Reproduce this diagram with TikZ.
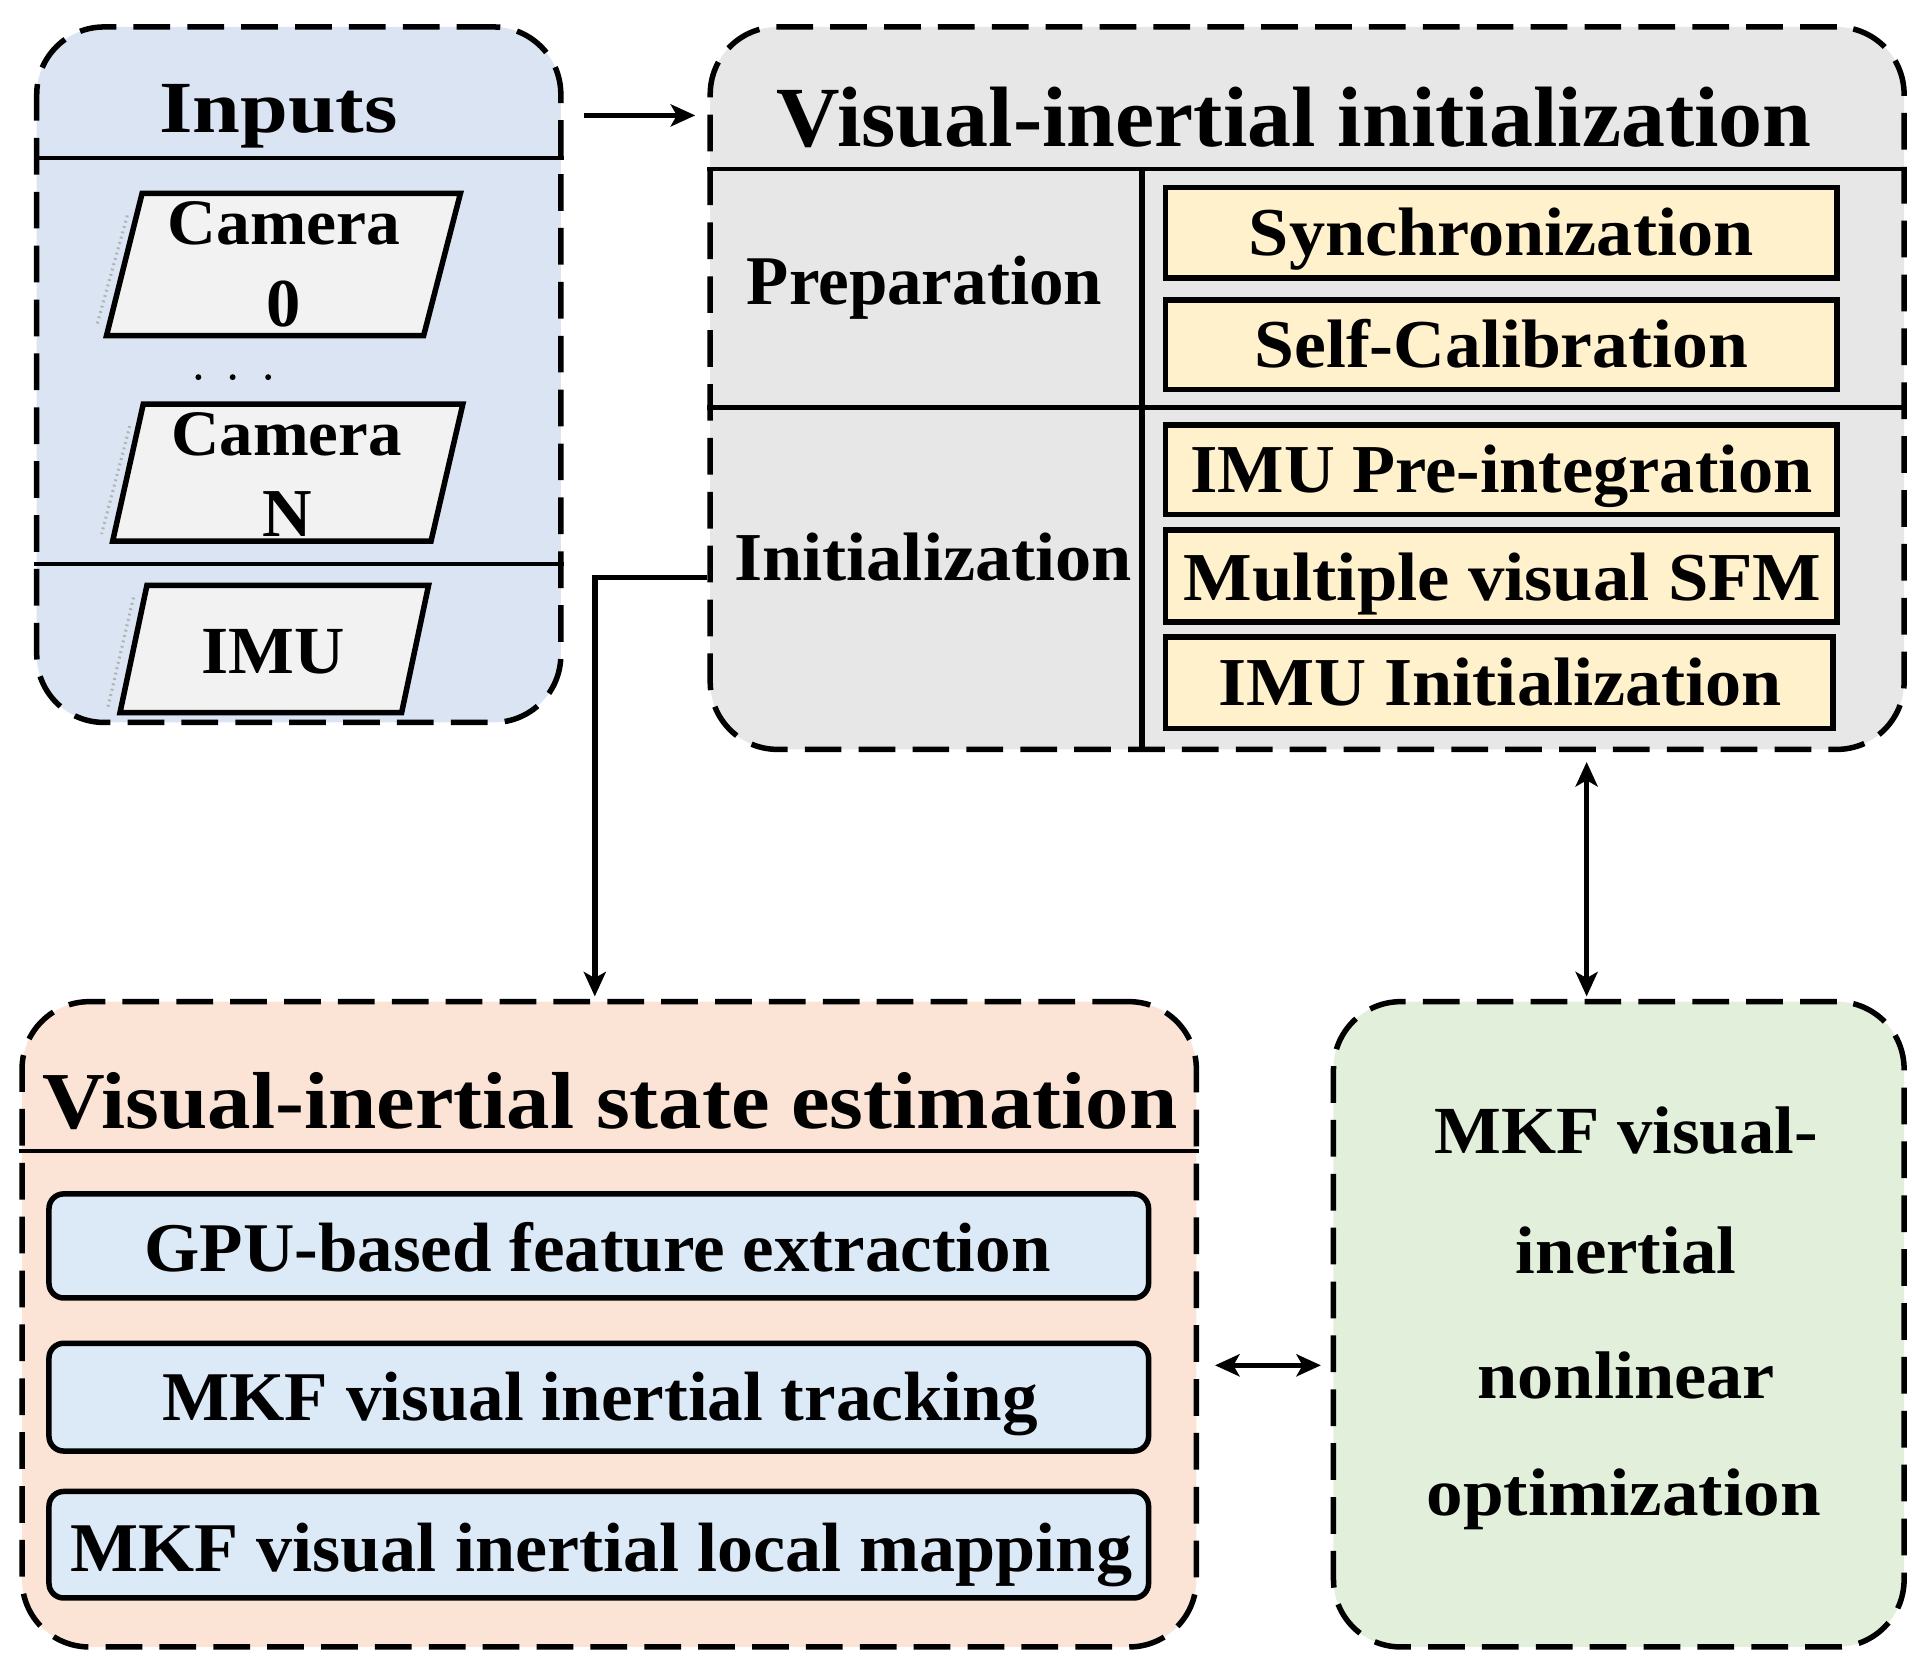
\documentclass[tikz,border=0pt]{standalone}
\usepackage{graphicx}
\usepackage{fontspec}
\setmainfont{Liberation Serif}
\usetikzlibrary{arrows.meta,calc}
\definecolor{inpblue}{RGB}{218,228,242}
\definecolor{viigrey}{RGB}{231,231,232}
\definecolor{ylw}{RGB}{255,241,204}
\definecolor{peach}{RGB}{251,228,214}
\definecolor{lblue}{RGB}{220,233,246}
\definecolor{lgreen}{RGB}{226,239,218}
\definecolor{pgrey}{RGB}{242,242,242}
\newcommand\fw[3]{\resizebox{#1pt}{\height}{\fontsize{#2}{#2}\selectfont\bfseries #3}}
\begin{document}
\begin{tikzpicture}[x=1pt,y=-1pt,
  bigbox/.style={rectangle,draw=black,line width=4.5pt,dash pattern=on 30pt off 14pt,rounded corners=55pt,inner sep=0pt},
  ybox/.style={rectangle,draw=black,line width=4.5pt,fill=ylw,minimum width=548,minimum height=74,inner sep=0pt},
  bbox/.style={rectangle,draw=black,line width=4.5pt,fill=lblue,rounded corners=12pt,minimum width=898,minimum height=86,inner sep=0pt},
  sepline/.style={line width=3.5pt},
  para/.style={draw=black,line width=4.5pt,fill=pgrey,line join=miter},
  shadowline/.style={draw=gray!60,line width=2.5pt,dash pattern=on 1.5pt off 3pt},
  lbl/.style={anchor=base,inner sep=0pt},
  arr/.style={line width=4.5pt,-{Stealth[length=20pt,width=18pt,inset=5pt]}},
  darr/.style={line width=4.5pt,{Stealth[length=20pt,width=18pt,inset=5pt]}-{Stealth[length=20pt,width=18pt,inset=5pt]}}]
\useasboundingbox (0,0) rectangle (1568,1366);
% ---------- Inputs ----------
\node[bigbox,fill=inpblue,minimum width=428,minimum height=568] (inp) at (244,306) {};
\draw[sepline] ($(inp.north west)+(0,109)$) -- ($(inp.north east)+(0,109)$);
\draw[sepline] ($(inp.north west)+(0,441)$) -- ($(inp.north east)+(0,441)$);
\node[lbl] (inpT) at (227.5,108) {\fw{195}{60}{Inputs}};
% camera 0
\draw[shadowline] (104,176) -- (79,266);
\draw[para] (116,158) -- (376,158) -- (346,274) -- (87,274) -- cycle;
\node[lbl] (cam0a) at (232,200) {\fw{190}{53}{Camera}};
\node[lbl] (cam0b) at (232,267) {\fontsize{56}{56}\selectfont\bfseries 0};
% dots
\fill (162,308) circle (2.4pt);
\fill (190,308) circle (2.4pt);
\fill (219,308) circle (2.4pt);
% camera N
\draw[shadowline] (106,348) -- (83,436);
\draw[para] (117,330) -- (378,330) -- (352,442) -- (92,442) -- cycle;
\node[lbl] (camNa) at (234,372) {\fw{188}{53}{Camera}};
\node[lbl] (camNb) at (235,438) {\fontsize{56}{56}\selectfont\bfseries N};
% IMU
\draw[shadowline] (109,488) -- (88,578);
\draw[para] (120,478) -- (350,478) -- (328,582) -- (98,582) -- cycle;
\node[lbl] (imu) at (223,550) {\fw{117}{55}{IMU}};
% ---------- Visual-inertial initialization ----------
\node[bigbox,fill=viigrey,minimum width=975,minimum height=590] (vii) at (1067.5,317) {};
\draw[sepline] ($(vii.north west)+(0,118)$) -- ($(vii.north east)+(0,118)$);
\draw[sepline] ($(vii.north west)+(0,313)$) -- ($(vii.north east)+(0,313)$);
\draw[line width=4.5pt] ($(vii.north west)+(355,118)$) -- ($(vii.south west)+(355,0)$);
\node[lbl] (viiT) at (1057,120) {\fw{845}{70}{Visual-inertial initialization}};
\node[lbl] (prep) at (755,249) {\fw{290}{57}{Preparation}};
\node[lbl] (initl) at (762,474) {\fw{325}{56}{Initialization}};
\node[ybox] (sync) at (1226,190) {};
\node[lbl] (syncT) at (1226,209) {\fw{412}{56}{Synchronization}};
\node[ybox,minimum height=73] (calib) at (1226,281.5) {};
\node[lbl] (calibT) at (1226,300) {\fw{403}{56}{Self-Calibration}};
\node[ybox,minimum height=73] (preint) at (1226,383.5) {};
\node[lbl] (preintT) at (1226,402) {\fw{508}{56}{IMU Pre-integration}};
\node[ybox,minimum height=75] (sfm) at (1226,470.5) {};
\node[lbl] (sfmT) at (1227,490) {\fw{521}{56}{Multiple visual SFM}};
\node[ybox,minimum height=75,minimum width=545] (imuinit) at (1224.5,557.5) {};
\node[lbl] (imuinitT) at (1225,576) {\fw{460}{56}{IMU Initialization}};
% ---------- Visual-inertial state estimation ----------
\node[bigbox,fill=peach,minimum width=959,minimum height=527] (vise) at (497.5,1081.5) {};
\draw[sepline] ($(vise.north west)+(0,124)$) -- ($(vise.north east)+(0,124)$);
\node[lbl] (viseT) at (498,922) {\fw{927}{66}{Visual-inertial state estimation}};
\node[bbox,minimum height=85] (gpu) at (489,1017.5) {};
\node[lbl] (gpuT) at (488,1038) {\fw{740}{57}{GPU-based feature extraction}};
\node[bbox,minimum height=88] (track) at (489,1141) {};
\node[lbl] (trackT) at (490,1160) {\fw{715}{57}{MKF visual inertial tracking}};
\node[bbox,minimum height=87] (lmap) at (489,1261.5) {};
\node[lbl] (lmapT) at (491,1283) {\fw{867}{57}{MKF visual inertial local mapping}};
% ---------- Optimization ----------
\node[bigbox,fill=lgreen,minimum width=466,minimum height=527] (opt) at (1322,1081.5) {};
\node[lbl] (opt1) at (1328,942) {\fw{313}{55}{MKF visual-}};
\node[lbl] (opt2) at (1328,1040) {\fw{180}{55}{inertial}};
\node[lbl] (opt3) at (1328,1142) {\fw{243}{55}{nonlinear}};
\node[lbl] (opt4) at (1326,1238) {\fw{322}{55}{optimization}};
% ---------- connectors ----------
\draw[arr] ($(inp.north east)+(17,74.5)$) -- ($(vii.north west)+(-10,74.5)$);
\draw[arr] ($(vii.north west)+(0,452)$) -| ($(vise.north west)+(470,-2)$);
\draw[darr] ($(vii.south west)+(718,8)$) -- ($(opt.north west)+(209,-2)$);
\draw[darr] ($(vise.east)+(13,33.5)$) -- ($(opt.west)+(-8,33.5)$);
\end{tikzpicture}
\end{document}
